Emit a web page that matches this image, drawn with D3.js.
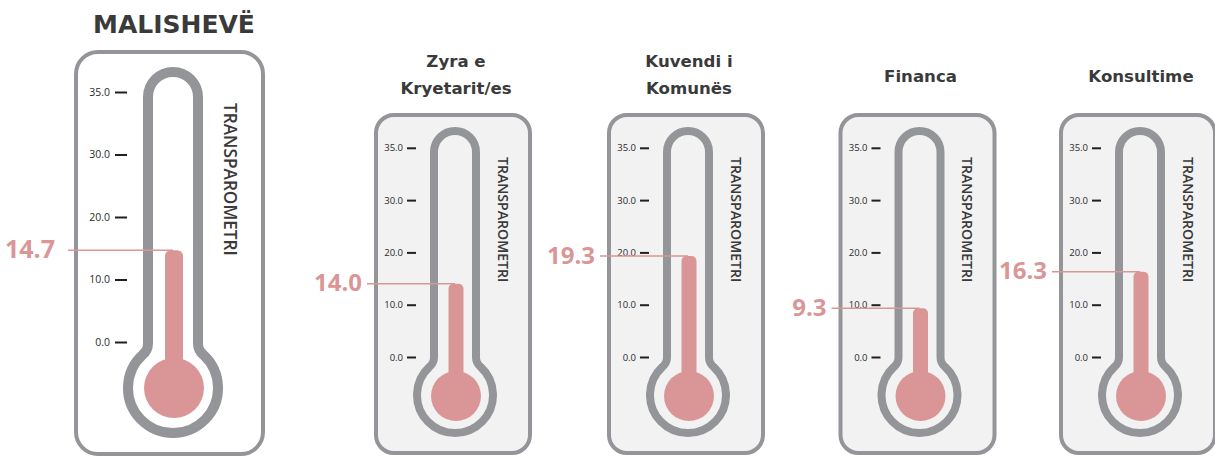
<!DOCTYPE html>
<html>
<head>
<meta charset="utf-8">
<script src="https://cdn.jsdelivr.net/npm/d3@7"></script>
<style>
  body { margin: 0; background: #fff; }
  svg { display: block; }
</style>
</head>
<body>
<svg class="chart"></svg>
<script>
const titles = [["MALISHEVË"], ["Zyra e", "Kryetarit/es"], ["Kuvendi i", "Komunës"], ["Financa"], ["Konsultime"]];
const values = [14.7, 14.0, 19.3, 9.3, 16.3];
const tickValues = [0, 10, 20, 30, 35];
const scaleLabel = "TRANSPAROMETRI";

const width = 1215, height = 458,
  grey = "#939598", pink = "#da9696", ink = "#3a3a3a", tickInk = "#231f20";

// layout of the big gauge and of the small ones
const big = {
  boxDx: -99, boxW: 191, boxY: 50, boxH: 406, boxR: 22, boxFill: "#fff",
  capTop: 67, hw: 30, tubeStroke: 10, bulbCy: 388, bulbR: 50, fillR: 30, fillCy: 388, stemW: 18, fillet: 7,
  y0: 342, step: 62.5, axisDx: -46, tickLen: 12, tickPad: 5, tickFont: 10.5,
  transDx: 57, transTop: 103, transFont: 17.2,
  lineDx: -105, valueGap: 13, valueFont: 25,
  titleFont: 25, titleY1: [33], titleY2: [33, 60]
};
const small = {
  boxDx: -81, boxW: 158, boxY: 113, boxH: 342, boxR: 18, boxFill: "#f2f2f2",
  capTop: 127, hw: 25, tubeStroke: 8, bulbCy: 395, bulbR: 42, fillR: 25, fillCy: 396, stemW: 15, fillet: 6,
  y0: 357, step: 52.3, axisDx: -39, tickLen: 9, tickPad: 4, tickFont: 9.5,
  transDx: 48, transTop: 157, transFont: 14.1,
  lineDx: -88, valueGap: 5, valueFont: 24,
  titleFont: 16.6, titleY1: [82], titleY2: [67, 94]
};
const centers = [173, 455, 688, 919.5, 1140];
const boxStroke = 4;

let svg = d3.select(".chart")
  .attr("width", width)
  .attr("height", height)
  .attr("viewBox", "0 0 " + width + " " + height);

svg.append("rect").attr("width", width).attr("height", height).attr("fill", "#fff");

function thermoPath(c, cx) {
  let hw = c.hw - c.tubeStroke / 2,
    R = c.bulbR - c.tubeStroke / 2,
    capCy = c.capTop + c.hw,
    yi = c.bulbCy - Math.sqrt(R * R - hw * hw),
    aR = Math.atan2(yi - c.bulbCy, hw) + c.fillet / R,
    aL = Math.atan2(yi - c.bulbCy, -hw) - c.fillet / R,
    p = d3.path();
  p.moveTo(cx - hw, yi - c.fillet);
  p.lineTo(cx - hw, capCy);
  p.arc(cx, capCy, hw, Math.PI, 2 * Math.PI, false);
  p.lineTo(cx + hw, yi - c.fillet);
  p.quadraticCurveTo(cx + hw, yi, cx + R * Math.cos(aR), c.bulbCy + R * Math.sin(aR));
  p.arc(cx, c.bulbCy, R, aR, aL, false);
  p.quadraticCurveTo(cx - hw, yi, cx - hw, yi - c.fillet);
  p.closePath();
  return p.toString();
}

titles.forEach((lines, i) => {
  let c = i === 0 ? big : small,
    cx = centers[i],
    v = values[i],
    g = svg.append("g").attr("class", "gauge");

  let y = d3.scaleLinear()
    .domain(tickValues)
    .range(tickValues.map((d, k) => c.y0 - k * c.step));

  // card
  g.append("rect")
    .attr("x", cx + c.boxDx + boxStroke / 2)
    .attr("y", c.boxY + boxStroke / 2)
    .attr("width", c.boxW - boxStroke)
    .attr("height", c.boxH - boxStroke)
    .attr("rx", c.boxR)
    .attr("fill", c.boxFill)
    .attr("stroke", grey)
    .attr("stroke-width", boxStroke);

  // ticks
  let axis = g.append("g")
    .attr("transform", "translate(" + (cx + c.axisDx) + ",0)")
    .call(d3.axisLeft(y).tickValues(tickValues).tickFormat(d3.format(".1f"))
      .tickSize(c.tickLen).tickPadding(c.tickPad));
  axis.select(".domain").remove();
  axis.selectAll(".tick line").attr("stroke", tickInk).attr("stroke-width", 2);
  axis.selectAll(".tick text")
    .attr("fill", "#2a2a2a")
    .style("font-family", "'Open Sans', sans-serif")
    .style("font-size", c.tickFont + "px");

  // vertical scale name
  g.append("text")
    .attr("transform", "translate(" + (cx + c.transDx) + "," + c.transTop + ") rotate(90)")
    .attr("dy", "0.36em")
    .attr("fill", ink)
    .style("font-family", "'Open Sans', sans-serif")
    .style("font-weight", 600)
    .style("font-size", c.transFont + "px")
    .text(scaleLabel);

  // glass
  g.append("path")
    .attr("d", thermoPath(c, cx))
    .attr("fill", c.boxFill)
    .attr("stroke", grey)
    .attr("stroke-width", c.tubeStroke);

  // leader line
  g.append("line")
    .attr("x1", cx + c.lineDx).attr("x2", cx)
    .attr("y1", y(v)).attr("y2", y(v))
    .attr("stroke", pink)
    .attr("stroke-width", 1.5);

  // mercury
  g.append("rect")
    .attr("x", cx - c.stemW / 2 + 1)
    .attr("y", y(v))
    .attr("width", c.stemW)
    .attr("height", c.fillCy - y(v))
    .attr("rx", c.stemW * 0.33)
    .attr("fill", pink);
  g.append("circle")
    .attr("cx", cx + 1)
    .attr("cy", c.fillCy)
    .attr("r", c.fillR)
    .attr("fill", pink);

  g.append("text")
    .attr("x", cx + c.lineDx - c.valueGap)
    .attr("y", y(v))
    .attr("dy", "0.32em")
    .attr("text-anchor", "end")
    .attr("fill", pink)
    .style("font-family", "'Open Sans', sans-serif")
    .style("font-weight", 700)
    .style("font-size", c.valueFont + "px")
    .text(d3.format(".1f")(v));

  // title
  let ys = lines.length === 1 ? c.titleY1 : c.titleY2;
  g.selectAll("text.title")
    .data(lines)
    .enter()
    .append("text")
    .attr("class", "title")
    .attr("x", cx + 1)
    .attr("y", (d, k) => ys[k])
    .attr("text-anchor", "middle")
    .attr("fill", ink)
    .style("font-family", "'DejaVu Sans', sans-serif")
    .style("font-weight", 700)
    .style("font-size", c.titleFont + "px")
    .text(d => d);
});
</script>
</body>
</html>
